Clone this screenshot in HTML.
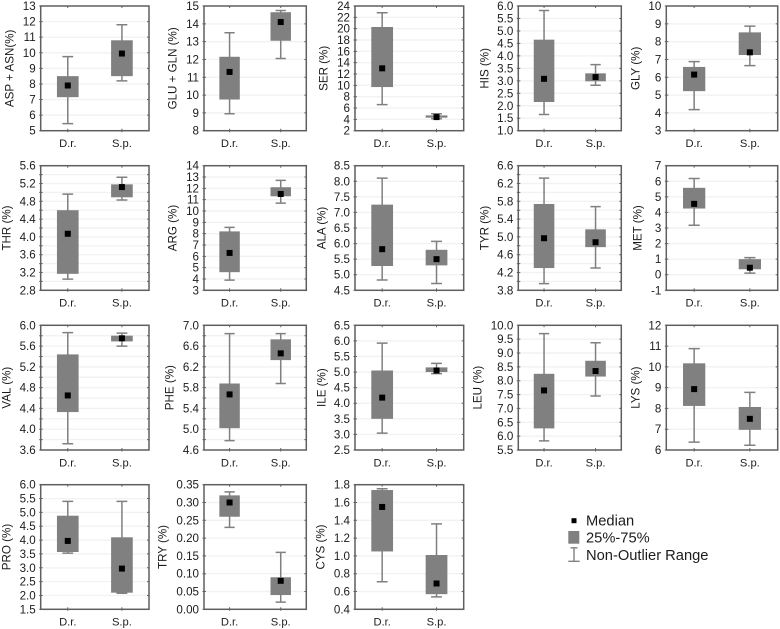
<!DOCTYPE html>
<html lang="en">
<head>
<meta charset="utf-8">
<title>Amino acid composition box plots</title>
<style>
  html, body { margin: 0; padding: 0; background: #fff; }
  body { width: 780px; height: 629px; overflow: hidden; }
  svg { display: block; font-family: "Liberation Sans", Arial, sans-serif; fill: #1c1c1c; filter: blur(0.3px); }
</style>
</head>
<body>
<svg id="chart" width="780" height="629" viewBox="0 0 780 629" xmlns="http://www.w3.org/2000/svg">
  <g>
    <rect x="571.5" y="518.2" width="5" height="5" fill="#000"/>
    <text x="586" y="525.7" font-size="14.7">Median</text>
    <rect x="568.3" y="531" width="11" height="12.7" fill="#808080"/>
    <text x="586" y="542.7" font-size="14.7">25%-75%</text>
    <path d="M570.5 547.8H577.5M574 547.8V561.3M568.3 561.3H579.7" fill="none" stroke="#808080" stroke-width="1.4"/>
    <text x="586" y="560" font-size="14.7">Non-Outlier Range</text>
  </g>
</svg>
<script>
// ---- data ----
const categories = ['D.r.', 'S.p.'];
const panelTitles = ['ASP + ASN(%)', 'GLU + GLN (%)', 'SER (%)', 'HIS (%)', 'GLY (%)',
  'THR (%)', 'ARG (%)', 'ALA (%)', 'TYR (%)', 'MET (%)',
  'VAL (%)', 'PHE (%)', 'ILE (%)', 'LEU (%)', 'LYS (%)',
  'PRO (%)', 'TRY (%)', 'CYS (%)'];
const tickLabels = [
  ['5','6','7','8','9','10','11','12','13'],
  ['8','9','10','11','12','13','14','15'],
  ['2','4','6','8','10','12','14','16','18','20','22','24'],
  ['1.0','1.5','2.0','2.5','3.0','3.5','4.0','4.5','5.0','5.5','6.0'],
  ['3','4','5','6','7','8','9','10'],
  ['2.8','3.2','3.6','4.0','4.4','4.8','5.2','5.6'],
  ['3','4','5','6','7','8','9','10','11','12','13','14'],
  ['4.5','5.0','5.5','6.0','6.5','7.0','7.5','8.0','8.5'],
  ['3.8','4.2','4.6','5.0','5.4','5.8','6.2','6.6'],
  ['-1','0','1','2','3','4','5','6','7'],
  ['3.6','4.0','4.4','4.8','5.2','5.6','6.0'],
  ['4.6','5.0','5.4','5.8','6.2','6.6','7.0'],
  ['2.5','3.0','3.5','4.0','4.5','5.0','5.5','6.0','6.5'],
  ['5.5','6.0','6.5','7.0','7.5','8.0','8.5','9.0','9.5','10.0'],
  ['6','7','8','9','10','11','12'],
  ['1.5','2.0','2.5','3.0','3.5','4.0','4.5','5.0','5.5','6.0'],
  ['0.00','0.05','0.10','0.15','0.20','0.25','0.30','0.35'],
  ['0.4','0.6','0.8','1.0','1.2','1.4','1.6','1.8']
];
// whether a panel has unlabeled midpoints between its labeled ticks
const hasMinorTicks = [false,false,false,false,false, true,false,false,true,false, true,true,false,false,false, false,false,false];
// [whisker low, 25%, median, 75%, whisker high]
const drStats = [
  [5.45,7.15,7.9,8.5,9.75],
  [8.95,9.75,11.3,12.15,13.5],
  [6.6,9.7,13,20.3,22.8],
  [1.65,2.15,3.08,4.65,5.82],
  [4.18,5.22,6.15,6.58,6.88],
  [3.05,3.17,4.07,4.6,4.96],
  [3.9,4.6,6.3,8.2,8.55],
  [4.83,5.28,5.82,7.25,8.1],
  [3.95,4.3,4.97,5.74,6.32],
  [3.18,4.25,4.55,5.58,6.18],
  [3.72,4.33,4.65,5.44,5.86],
  [4.78,5.02,5.67,5.88,6.84],
  [3.04,3.5,4.18,5.05,5.93],
  [5.83,6.28,7.65,8.25,9.7],
  [6.38,8.12,8.93,10.17,10.88],
  [3.53,3.57,3.97,4.88,5.4],
  [0.23,0.26,0.30,0.32,0.33],
  [0.71,1.05,1.55,1.74,1.755]
];
const spStats = [
  [8.2,8.5,9.95,10.8,11.8],
  [12.05,13.05,14.1,14.65,14.75],
  [4.1,4.3,4.4,4.7,5.0],
  [2.82,2.98,3.15,3.3,3.65],
  [6.65,7.25,7.4,8.52,8.87],
  [4.83,4.89,5.12,5.18,5.34],
  [10.7,11.3,11.5,12.1,12.7],
  [4.72,5.3,5.5,5.8,6.07],
  [4.3,4.77,4.88,5.17,5.68],
  [0.1,0.35,0.45,1.0,1.1],
  [5.6,5.69,5.75,5.8,5.85],
  [5.88,6.33,6.46,6.73,6.84],
  [4.95,5.0,5.05,5.15,5.28],
  [7.45,8.15,8.35,8.72,9.37],
  [6.23,6.97,7.5,8.07,8.77],
  [2.08,2.1,2.97,4.1,5.4],
  [0.02,0.04,0.08,0.09,0.16],
  [0.54,0.57,0.69,1.01,1.36]
];

// ---- page layout (not data) ----
const layoutColumns = [[40.7,149],[204,306.3],[355,463.7],[518.3,621.3],[666.3,777.7]];
const layoutRows = [[6,130.7],[165.7,290.3],[325.3,450],[484.7,609.3]];
const layoutTitleX = [10,173,324,485,636, 7,173,322,485,638, 7,170,322,478,636, 7,163,321];

const svg = document.getElementById('chart');
const NS = 'http://www.w3.org/2000/svg';
function make(tag, parent, attrs) {
  const el = document.createElementNS(NS, tag);
  for (const k in attrs) el.setAttribute(k, attrs[k]);
  parent.appendChild(el);
  return el;
}
function slug(title) {
  return title.split(/[ (]/)[0].toLowerCase();
}

const legendNode = svg.firstElementChild;

panelTitles.forEach(function (title, p) {
  const col = layoutColumns[p % 5];
  const row = layoutRows[Math.floor(p / 5)];
  const x0 = col[0], x1 = col[1], y0 = row[0], y1 = row[1];
  const labels = tickLabels[p];
  const dMin = parseFloat(labels[0]);
  const dMax = parseFloat(labels[labels.length - 1]);
  const yScale = function (v) { return y1 - (v - dMin) / (dMax - dMin) * (y1 - y0); };
  const xBand = function (i) { return x0 + (x1 - x0) * (i + 0.5) / categories.length; };
  const name = slug(title);

  const g = make('g', svg, {});
  
  
  svg.insertBefore(g, legendNode);

  // gridlines + y ticks
  const values = labels.map(parseFloat);
  const step = (dMax - dMin) / (values.length - 1);
  const minorValues = hasMinorTicks[p] ? values.slice(1).map(function (v) { return v - step / 2; }) : [];
  minorValues.concat(values).forEach(function (v) {
    const y = yScale(v);
    if (v > dMin && v < dMax) {
      const grid = make('line', g, { x1: x0, x2: x1, y1: y, y2: y, stroke: '#f2f2f2', 'stroke-width': 1.4 });
      
      
    }
    const tick = make('path', g, { d: 'M' + (x0 - 1.5) + ' ' + y + 'H' + (x0 + 2) + 'M' + (x1 - 2) + ' ' + y + 'H' + x1, stroke: '#666', 'stroke-width': 1, fill: 'none' });
    
    
  });
  values.forEach(function (v, i) {
    const t = make('text', g, { x: x0 - 5, y: yScale(v) + 4, 'text-anchor': 'end', 'font-size': 11.6 });
    t.textContent = labels[i];
    
    
  });

  // boxes
  [drStats[p], spStats[p]].forEach(function (s, i) {
    const cx = xBand(i);
    const w = (x1 - x0) * 0.2, cap = (x1 - x0) * 0.1;
    const whisker = make('path', g, {
      d: 'M' + cx + ' ' + yScale(s[0]) + 'V' + yScale(s[4]) +
         'M' + (cx - cap / 2) + ' ' + yScale(s[0]) + 'H' + (cx + cap / 2) +
         'M' + (cx - cap / 2) + ' ' + yScale(s[4]) + 'H' + (cx + cap / 2),
      stroke: '#808080', 'stroke-width': 1.5, fill: 'none'
    });
    
    

    const box = make('rect', g, { x: cx - w / 2, y: yScale(s[3]), width: w, height: yScale(s[1]) - yScale(s[3]), fill: '#808080' });
    
    

    const med = make('rect', g, { x: cx - 3, y: yScale(s[2]) - 3, width: 6, height: 6, fill: '#000' });
    
    

    const xt = make('path', g, { d: 'M' + cx + ' ' + y0 + 'v2M' + cx + ' ' + (y1 - 2) + 'v3.5', stroke: '#666', 'stroke-width': 1, fill: 'none' });
    
    

    const lab = make('text', g, { x: cx, y: y1 + 16.4, 'text-anchor': 'middle', 'font-size': 11.2 });
    lab.textContent = categories[i];
    
    
  });

  // frame
  const frame = make('rect', g, { x: x0, y: y0, width: x1 - x0, height: y1 - y0, fill: 'none', stroke: '#5f5f5f', 'stroke-width': 1.5 });
  
  

  // y title
  const tx = layoutTitleX[p], ty = (y0 + y1) / 2;
  const yt = make('text', g, { x: tx, y: ty, 'text-anchor': 'middle', 'dominant-baseline': 'central', 'font-size': 11.6, transform: 'rotate(-90 ' + tx + ' ' + ty + ')' });
  yt.textContent = title;
  
  
});
</script>
</body>
</html>
